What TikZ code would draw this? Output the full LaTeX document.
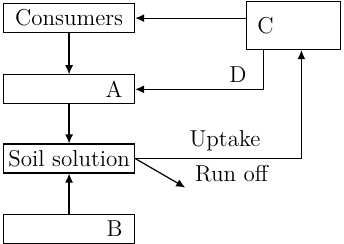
\documentclass[tikz,border=0pt]{standalone}
\usetikzlibrary{arrows.meta,positioning,calc}

\begin{document}
\begin{tikzpicture}[
    node distance=20pt,
    box/.style={draw, line width=0.6pt, minimum width=65.5pt, minimum height=14.5pt,
                inner xsep=1.5pt, inner ysep=1pt, font=\fontsize{11.5}{13}\selectfont},
    rbox/.style={box, text width=53.5pt, inner xsep=6pt, align=right},
    lbl/.style={font=\fontsize{11.5}{13}\selectfont},
    >={Latex[length=4.5pt,width=4pt]},
    every path/.style={line width=0.6pt}
]
\useasboundingbox (0,0) rectangle (172pt,-121.5pt);

% ---- left column ----
\node[box, anchor=north west] (cons) at (1.5pt,-1.5pt) {Consumers};
\node[rbox, below=20.5pt of cons] (A) {A};
\node[box, below=19.5pt of A] (soil) {Soil solution};
\node[rbox, below=of soil] (B) {B};

% ---- box C, top right ----
\node[box, anchor=north east, minimum width=47pt, minimum height=24pt,
      text width=36pt, inner xsep=5.5pt, align=left] (C) at (170.5pt,-0.5pt) {\raisebox{-3.5pt}{C}};

% free end of the run off arrow
\coordinate (ro) at ($(soil.east)+(25pt,-14.5pt)$);

% arrows
\draw[->] (C.west |- cons.east) -- (cons.east);
\draw[->] (cons) -- (A);
\draw[->] ($(C.south west)+(9pt,0)$) |- (A.east) node[lbl, pos=0.6, above] {D};
\draw[->] (A) -- (soil);
\draw[->] (B) -- (soil);
\draw[->] (soil.east) -| ($(C.south)+(4pt,0)$)
    node[lbl, pos=0.27, above] {Uptake}
    node[lbl, pos=0.29, below] {Run off};
\draw[->] (soil.east) -- (ro);

\end{tikzpicture}
\end{document}
